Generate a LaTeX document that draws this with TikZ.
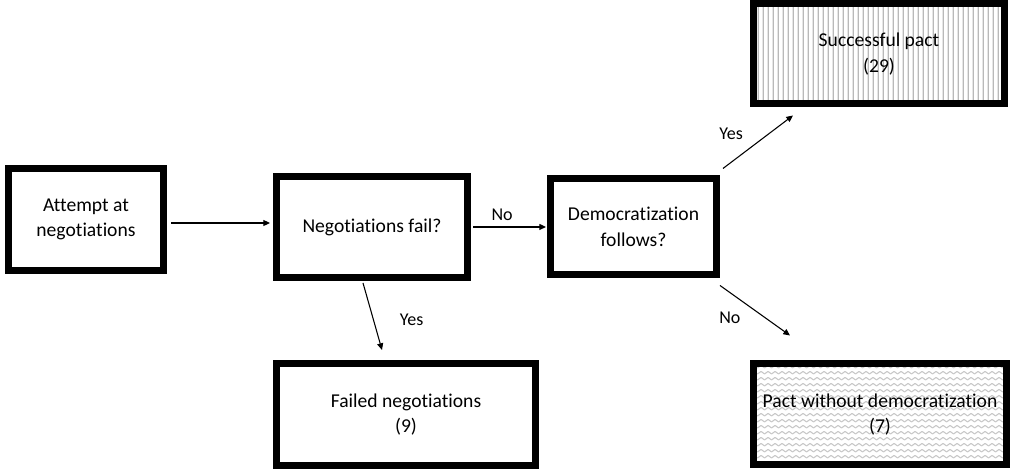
\documentclass[tikz,border=0pt]{standalone}
\usepackage{fontspec}
\setmainfont{Carlito}[Ligatures=NoCommon]
\usetikzlibrary{arrows.meta,positioning,patterns.meta}

% fills of the two outcome boxes
\tikzdeclarepattern{
  name=vstripes,
  type=uncolored,
  bounding box={(0pt,0pt) and (3.5pt,3.5pt)},
  tile size={(3.5pt,3.5pt)},
  code={\draw[line width=1pt] (1.75pt,-0.5pt) -- (1.75pt,4pt);}
}
\tikzdeclarepattern{
  name=zigzag rows,
  type=uncolored,
  bounding box={(0pt,0pt) and (4.9pt,4.5pt)},
  tile size={(4.9pt,4.5pt)},
  code={\draw[line width=0.9pt, line join=round] (-0.5pt,0.8pt) -- (0pt,1.2pt) -- (2.45pt,3.1pt) -- (4.9pt,1.2pt) -- (5.4pt,0.8pt);}
}

\begin{document}
\begin{tikzpicture}[
  x=0.75pt, y=-0.75pt,
  >={Triangle[length=5pt,width=4.5pt]},
  box/.style={rectangle, draw, line width=5.25pt, inner sep=0pt, align=center, font=\fontsize{14.7}{19}\selectfont},
  lbl/.style={inner sep=0pt, font=\fontsize{13.5}{16}\selectfont},
  line/.style={draw, line width=0.8pt, ->}
]
\useasboundingbox (0,0) rectangle (1010,471);

\node[box, minimum width=116.25pt, minimum height=76.5pt] (attempt) at (86,219.5) {Attempt at\\negotiations};
\node[box, minimum width=143.25pt, minimum height=75.75pt, right=79.5pt of attempt, yshift=-5.6pt] (fail) {Negotiations fail?};
\node[box, minimum width=124.5pt, minimum height=72pt, right=57pt of fail] (demo) {Democratization\\follows?};
\node[box, minimum width=188.25pt, minimum height=75pt, above right=51pt and 22.5pt of demo,
  pattern=vstripes, pattern color=gray!55] (success) {Successful pact\\(29)};
\node[box, minimum width=189.75pt, minimum height=75.75pt, below right=61.5pt and 22.5pt of demo,
  pattern=zigzag rows, pattern color=gray!45] (nodemo) {Pact without democratization\\(7)};
\node[box, minimum width=194.25pt, minimum height=76.5pt, below=59.25pt of fail, xshift=25.5pt] (failed) {Failed negotiations\\(9)};

\coordinate (a1) at ([shift={(4,3.5)}]attempt.east);
\path[line, shorten >=2.25pt] (a1) -- (a1 -| fail.west);
\path[line, shorten <=1.5pt, shorten >=0.75pt] (fail.east) -- (fail.east -| demo.west)
  node[lbl, pos=0.41, above=4.5pt] (no1) {No};
\path[line] ([shift={(3,-7)}]demo.north east) -- ([shift={(43,8)}]success.south west)
  node[lbl, pos=0.29, above left=9.4pt and 0pt] (yes1) {Yes};
\path[line] ([shift={(0,7)}]demo.south east) -- ([shift={(40,-25)}]nodemo.north west)
  node[lbl, pos=0.3, below left=8.25pt and 0pt] (no2) {No};
\path[line] ([shift={(-9,2)}]fail.south) -- ([shift={(-24,-10)}]failed.north)
  node[lbl, pos=0.55, right=19.5pt] (yes2) {Yes};

\end{tikzpicture}
\end{document}
